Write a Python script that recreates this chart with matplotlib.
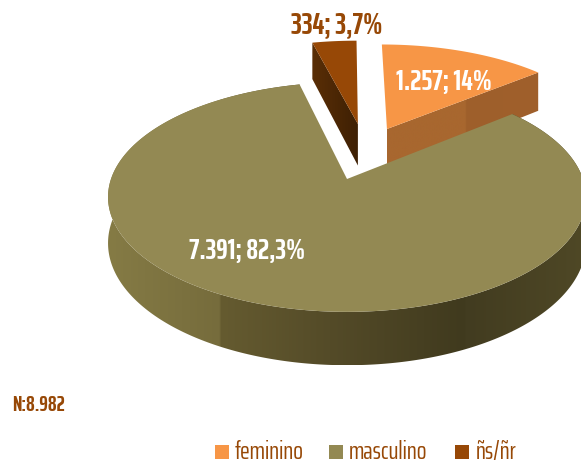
import numpy as np
import matplotlib
matplotlib.use('Agg')
import matplotlib.pyplot as plt
from matplotlib import font_manager as fm
from matplotlib.colors import LinearSegmentedColormap
from matplotlib.patches import Polygon

categories = ['feminino', 'masculino', 'ñs/ñr']
values = [1257, 7391, 334]
percents = ['14%', '82,3%', '3,7%']
value_labels = ['1.257', '7.391', '334']
total_label = 'N:8.982'

top_colors = ['#F79646', '#938953', '#974806']
text_brown = '#974806'

# how far each slice is pulled out, in pie radii (right, back)
offsets = [(0.182, 0.48), (0.0, 0.0), (0.05, 0.532)]

# pie projection, all in pixels of the 581x464 picture
cx, cy = 347, 180
rx, ry = 236, 112
persp = 0.157
depth = 45

names = {f.name for f in fm.fontManager.ttflist}
font = 'Liberation Sans'
for cand in ['Saira ExtraCondensed', 'Saira Extra Condensed', 'Barlow Condensed', 'Asap Condensed']:
    if cand in names:
        font = cand
        break


def project(u, v, drop=0.0):
    d = 1 + persp * v
    return cx + rx * u / d, cy - ry * v / d + drop * depth / d


fig = plt.figure(figsize=(5.81, 4.64), dpi=100)
ax = fig.add_axes([0, 0, 1, 1])

fracs = np.array(values) / sum(values)
ends = np.cumsum(fracs) * 2 * np.pi
starts = ends - fracs * 2 * np.pi


def rim(i, n=200):
    a = np.linspace(starts[i], ends[i], n)
    return offsets[i][0] + np.sin(a), offsets[i][1] + np.cos(a)


def draw_wall(us, vs, stops, z):
    # wall between the top edge and the same edge dropped by depth,
    # painted with a left to right gradient clipped to its outline
    tx, ty = project(us, vs)
    bx, by = project(us, vs, 1)
    pts = np.c_[np.r_[tx, bx[::-1]], np.r_[ty, by[::-1]]]
    poly = Polygon(pts, closed=True, fc='none', ec='none', transform=ax.transData)
    ax.add_patch(poly)
    x0, x1 = pts[:, 0].min(), pts[:, 0].max()
    y0, y1 = pts[:, 1].min(), pts[:, 1].max()
    pos = [min(max((x - x0) / (x1 - x0), 0), 1) for x, c in stops]
    pos[0], pos[-1] = 0, 1
    cmap = LinearSegmentedColormap.from_list('w', list(zip(pos, [c for x, c in stops])), N=512)
    im = ax.imshow(np.linspace(0, 1, 512)[None, :], cmap=cmap, extent=(x0, x1, y1, y0),
                   aspect='auto', interpolation='bilinear', zorder=z)
    im.set_clip_path(poly)


def draw_top(i, z):
    u, v = rim(i)
    x, y = project(np.r_[offsets[i][0], u], np.r_[offsets[i][1], v])
    ax.fill(x, y, color=top_colors[i], lw=0, zorder=z)


# ns/nr at the back, only its left radial wall shows
u, v = rim(2)
us = np.linspace(offsets[2][0], u[0], 30)
vs = np.linspace(offsets[2][1], v[0], 30)
draw_wall(us, vs, [(315, '#5A2E06'), (358, '#3E2004')], 1)
draw_top(2, 2)

# feminino, its right radial wall shows in front
u, v = rim(0)
us = np.linspace(offsets[0][0], u[-1], 30)
vs = np.linspace(offsets[0][1], v[-1], 30)
draw_wall(us, vs, [(387, '#A8672F'), (465, '#A8672F'), (466, '#9E5F2B'), (539, '#A0602C')], 1)
draw_top(0, 2)

# masculino outer wall, facets get darker from left to right
u, v = rim(1, 400)
draw_wall(u, v, [(108, '#857B45'), (219, '#766C3C'), (221, '#655B30'),
                 (330, '#544B28'), (464, '#403A1E'), (466, '#423C20'), (590, '#4F4826')], 3)
draw_top(1, 4)

ax.set_xlim(0, 581)
ax.set_ylim(464, 0)
ax.axis('off')

ax.text(337, 25, f'{value_labels[2]}; {percents[2]}', color=text_brown, family=font,
        weight='bold', fontsize=21.5, ha='center', va='center', zorder=6)
ax.text(444, 82, f'{value_labels[0]}; {percents[0]}', color='white', family=font,
        weight='bold', fontsize=21, ha='center', va='center', zorder=6)
ax.text(247, 251, f'{value_labels[1]}; {percents[1]}', color='white', family=font,
        weight='bold', fontsize=21, ha='center', va='center', zorder=6)
ax.text(12, 405, total_label, color=text_brown, family=font, weight='bold',
        fontsize=15.5, ha='left', va='center')

square_x = [215, 329, 455]
text_x = [235, 349, 476]
for i, name in enumerate(categories):
    ax.fill([square_x[i], square_x[i] + 14, square_x[i] + 14, square_x[i]],
            [446, 446, 460, 460], color=top_colors[i], lw=0)
    ax.text(text_x[i], 459, name, color=text_brown, family=font, fontsize=18.5,
            ha='left', va='baseline')

fig.savefig('out.png', dpi=100)
